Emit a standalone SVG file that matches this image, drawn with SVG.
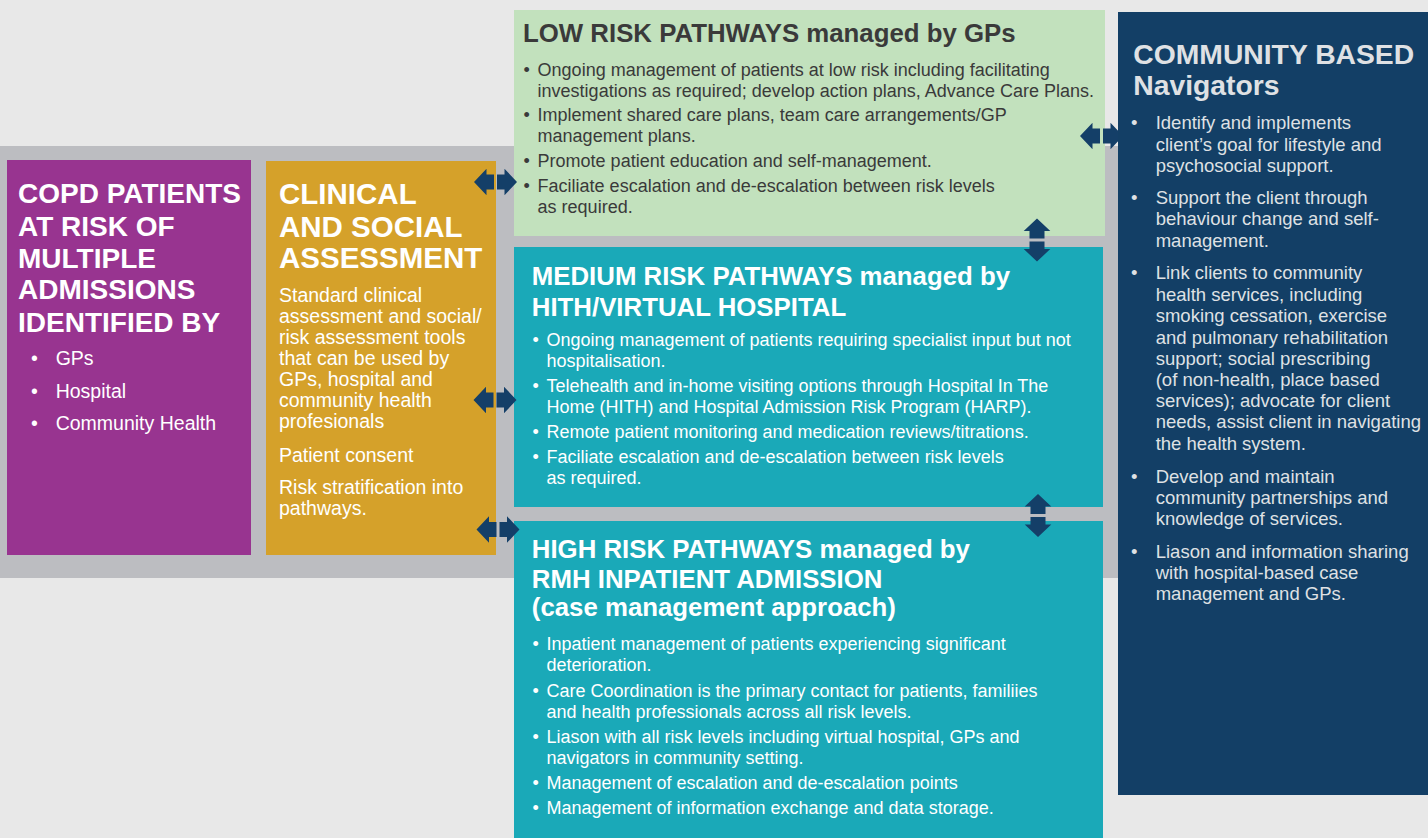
<svg xmlns="http://www.w3.org/2000/svg" xmlns:xlink="http://www.w3.org/1999/xlink" width="1428" height="838" viewBox="0 0 1428 838">
<defs>
<style>
text{font-family:"Liberation Sans",Arial,sans-serif;}
.ttl{font-weight:bold;fill:#ffffff;}
.wt{fill:#ffffff;}
.dk{fill:#3a3a3a;}
.lg{fill:#dfe1e4;}
.arr{fill:#143f68;}
</style>
<path id="dbl" d="M-21.5,0 L-9,-13.3 L-9,-7.5 L-1.5,-7.5 L-1.5,7.5 L-9,7.5 L-9,13.3 Z M21.5,0 L9,-13.3 L9,-7.5 L1.5,-7.5 L1.5,7.5 L9,7.5 L9,13.3 Z"/>
</defs>
<rect x="0" y="0" width="1428" height="838" fill="#e8e8e8"/>
<rect x="0" y="146" width="1118" height="432" fill="#bcbdc1"/>

<g id="copd">
<rect x="7" y="160" width="244" height="395" fill="#983490"/>
<text class="ttl" font-size="28"><tspan x="18" y="203.3">COPD PATIENTS</tspan><tspan x="18" y="235.7">AT RISK OF</tspan><tspan x="18" y="267.7">MULTIPLE</tspan><tspan x="18" y="299.3">ADMISSIONS</tspan><tspan x="18" y="331.7">IDENTIFIED BY</tspan></text>
<text class="wt" font-size="19.5"><tspan x="31" y="365">•</tspan><tspan x="55.7" y="365">GPs</tspan><tspan x="31" y="397.5">•</tspan><tspan x="55.7" y="397.5">Hospital</tspan><tspan x="31" y="430">•</tspan><tspan x="55.7" y="430">Community Health</tspan></text>
</g>

<g id="assessment">
<rect x="266" y="161" width="230" height="394" fill="#d5a12a"/>
<text class="ttl" font-size="29.5"><tspan x="279" y="204">CLINICAL</tspan><tspan x="279" y="236.7">AND SOCIAL</tspan><tspan x="279" y="268.3">ASSESSMENT</tspan></text>
<text class="wt" font-size="19.5"><tspan x="279" y="301.7">Standard clinical</tspan><tspan x="279" y="322.8">assessment and social/</tspan><tspan x="279" y="343.9">risk assessment tools</tspan><tspan x="279" y="365">that can be used by</tspan><tspan x="279" y="386.1">GPs, hospital and</tspan><tspan x="279" y="407.2">community health</tspan><tspan x="279" y="428.3">profesionals</tspan><tspan x="279" y="461.7">Patient consent</tspan><tspan x="279" y="494.3">Risk stratification into</tspan><tspan x="279" y="515.3">pathways.</tspan></text>
</g>

<g id="low-risk">
<rect x="514" y="10" width="591" height="226" fill="#c2e1bd"/>
<text class="dk" font-size="25.8" font-weight="bold"><tspan x="523" y="41.7">LOW RISK PATHWAYS managed by GPs</tspan></text>
<text class="dk" font-size="18"><tspan x="523.5" y="76">•</tspan><tspan x="537.6" y="76">Ongoing management of patients at low risk including facilitating</tspan><tspan x="537.6" y="97">investigations as required; develop action plans, Advance Care Plans.</tspan><tspan x="523.5" y="120.7">•</tspan><tspan x="537.6" y="120.7">Implement shared care plans, team care arrangements/GP</tspan><tspan x="537.6" y="141.7">management plans.</tspan><tspan x="523.5" y="167.3">•</tspan><tspan x="537.6" y="167.3">Promote patient education and self-management.</tspan><tspan x="523.5" y="192.3">•</tspan><tspan x="537.6" y="192.3">Faciliate escalation and de-escalation between risk levels</tspan><tspan x="537.6" y="213.3">as required.</tspan></text>
</g>

<g id="medium-risk">
<rect x="514" y="247" width="589" height="260" fill="#1aa9b8"/>
<text class="ttl" font-size="25.8"><tspan x="531.8" y="284.5">MEDIUM RISK PATHWAYS managed by</tspan><tspan x="531.8" y="316">HITH/VIRTUAL HOSPITAL</tspan></text>
<text class="wt" font-size="18"><tspan x="532.5" y="346">•</tspan><tspan x="546.4" y="346">Ongoing management of patients requiring specialist input but not</tspan><tspan x="546.4" y="367">hospitalisation.</tspan><tspan x="532.5" y="391.7">•</tspan><tspan x="546.4" y="391.7">Telehealth and in-home visiting options through Hospital In The</tspan><tspan x="546.4" y="412.7">Home (HITH) and Hospital Admission Risk Program (HARP).</tspan><tspan x="532.5" y="438.3">•</tspan><tspan x="546.4" y="438.3">Remote patient monitoring and medication reviews/titrations.</tspan><tspan x="532.5" y="462.7">•</tspan><tspan x="546.4" y="462.7">Faciliate escalation and de-escalation between risk levels</tspan><tspan x="546.4" y="484">as required.</tspan></text>
</g>

<g id="high-risk">
<rect x="514" y="521" width="589" height="317" fill="#1aa9b8"/>
<text class="ttl" font-size="25.8"><tspan x="531.8" y="558.3">HIGH RISK PATHWAYS managed by</tspan><tspan x="531.8" y="587.5">RMH INPATIENT ADMISSION</tspan><tspan x="531.8" y="615.5">(case management approach)</tspan></text>
<text class="wt" font-size="18"><tspan x="532.5" y="650">•</tspan><tspan x="546.4" y="650">Inpatient management of patients experiencing significant</tspan><tspan x="546.4" y="671">deterioration.</tspan><tspan x="532.5" y="696.7">•</tspan><tspan x="546.4" y="696.7">Care Coordination is the primary contact for patients, familiies</tspan><tspan x="546.4" y="717.7">and health professionals across all risk levels.</tspan><tspan x="532.5" y="743.3">•</tspan><tspan x="546.4" y="743.3">Liason with all risk levels including virtual hospital, GPs and</tspan><tspan x="546.4" y="764.3">navigators in community setting.</tspan><tspan x="532.5" y="789">•</tspan><tspan x="546.4" y="789">Management of escalation and de-escalation points</tspan><tspan x="532.5" y="814">•</tspan><tspan x="546.4" y="814">Management of information exchange and data storage.</tspan></text>
</g>

<g id="connectors" class="arr">
<use href="#dbl" xlink:href="#dbl" transform="translate(495.5,182)"/>
<use href="#dbl" xlink:href="#dbl" transform="translate(495,400)"/>
<use href="#dbl" xlink:href="#dbl" transform="translate(498,529.5)"/>
<use href="#dbl" xlink:href="#dbl" transform="translate(1101.5,136)"/>
<use href="#dbl" xlink:href="#dbl" transform="translate(1037,240) rotate(90)"/>
<use href="#dbl" xlink:href="#dbl" transform="translate(1038,515.5) rotate(90)"/>
</g>

<g id="navigators">
<rect x="1118" y="12" width="310" height="783" fill="#133f66"/>
<text class="lg" font-size="28.3" font-weight="bold"><tspan x="1133.3" y="64">COMMUNITY BASED</tspan><tspan x="1133.3" y="95">Navigators</tspan></text>
<text class="lg" font-size="18.5"><tspan x="1131" y="129.3">•</tspan><tspan x="1155.7" y="129.3">Identify and implements</tspan><tspan x="1155.7" y="150.7">client’s goal for lifestyle and</tspan><tspan x="1155.7" y="171.7">psychosocial support.</tspan><tspan x="1131" y="204">•</tspan><tspan x="1155.7" y="204">Support the client through</tspan><tspan x="1155.7" y="225.3">behaviour change and self-</tspan><tspan x="1155.7" y="246.7">management.</tspan><tspan x="1131" y="279.3">•</tspan><tspan x="1155.7" y="279.3">Link clients to community</tspan><tspan x="1155.7" y="300.7">health services, including</tspan><tspan x="1155.7" y="322.3">smoking cessation, exercise</tspan><tspan x="1155.7" y="343.5">and pulmonary rehabilitation</tspan><tspan x="1155.7" y="364.5">support; social prescribing</tspan><tspan x="1155.7" y="386">(of non-health, place based</tspan><tspan x="1155.7" y="407">services); advocate for client</tspan><tspan x="1155.7" y="428.3">needs, assist client in navigating</tspan><tspan x="1155.7" y="449.5">the health system.</tspan><tspan x="1131" y="482.7">•</tspan><tspan x="1155.7" y="482.7">Develop and maintain</tspan><tspan x="1155.7" y="504">community partnerships and</tspan><tspan x="1155.7" y="525.2">knowledge of services.</tspan><tspan x="1131" y="557.7">•</tspan><tspan x="1155.7" y="557.7">Liason and information sharing</tspan><tspan x="1155.7" y="579">with hospital-based case</tspan><tspan x="1155.7" y="600.2">management and GPs.</tspan></text>
</g>
</svg>
